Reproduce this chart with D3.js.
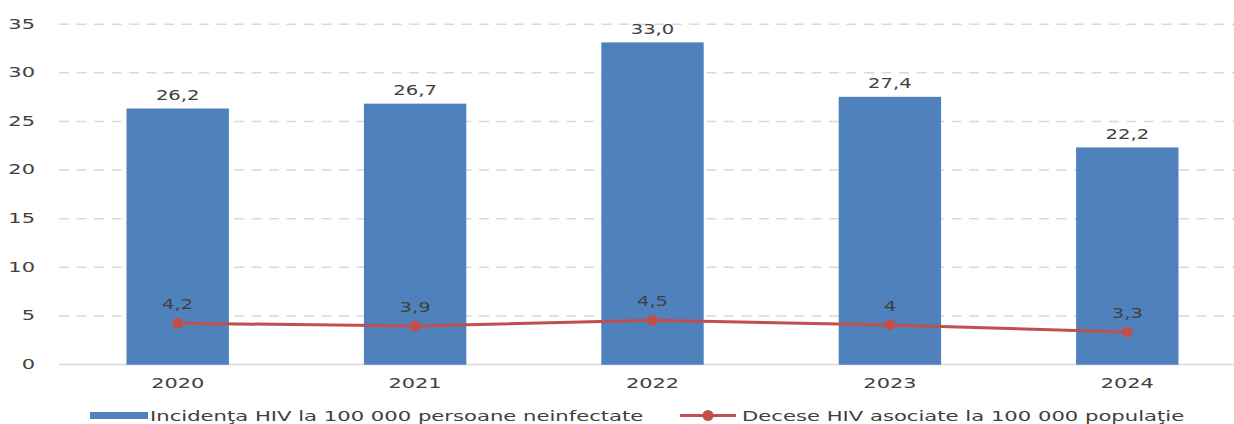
<!DOCTYPE html>
<html>
<head>
<meta charset="utf-8">
<script src="https://cdn.jsdelivr.net/npm/d3@7"></script>
<style>
  html, body { margin: 0; padding: 0; background: #fff; }
  svg { display: block; font-family: "DejaVu Sans", Verdana, sans-serif; }
</style>
</head>
<body>
<svg id="chart" width="1234" height="424"></svg>
<script>
// Yearly HIV indicators
const years = ["2020", "2021", "2022", "2023", "2024"];
const incidence = [26.2, 26.7, 33.0, 27.4, 22.2];
const incidenceLabels = ["26,2", "26,7", "33,0", "27,4", "22,2"];
const deaths = [4.2, 3.9, 4.5, 4, 3.3];
const deathLabels = ["4,2", "3,9", "4,5", "4", "3,3"];
const yTicks = [0, 5, 10, 15, 20, 25, 30, 35];
const seriesNames = ["Incidenţa HIV la 100 000 persoane neinfectate", "Decese HIV asociate la 100 000 populaţie"];

const barColor = "#4F81BD";
const lineColor = "#C0504D";
const textColor = "#404040";
const gridColor = "#D9D9D9";

const svg = d3.select("#chart");
const plotLeft = 59, plotRight = 1246, plotTop = 23.7, plotBottom = 364;

// wide lettering: stretch glyphs horizontally by a fixed factor
function widen(sel, f) {
  sel.each(function () {
    const w = this.getComputedTextLength();
    this.setAttribute("textLength", w * f);
    this.setAttribute("lengthAdjust", "spacingAndGlyphs");
  });
}

const x = d3.scaleBand().domain(years).range([plotLeft, plotRight])
  .paddingInner(0.575).paddingOuter(0.2875);
const y = d3.scaleLinear().domain([0, 35]).range([plotBottom, plotTop]);

// horizontal gridlines and y labels
const yAxis = d3.axisLeft(y).tickValues(yTicks).tickSize(-(plotRight - plotLeft)).tickPadding(24);
const gy = svg.append("g").attr("transform", `translate(${plotLeft},0)`).call(yAxis);
gy.select(".domain").remove();
gy.selectAll(".tick line")
  .attr("stroke", gridColor).attr("stroke-width", 1.5)
  .attr("stroke-dasharray", d => d === 0 ? null : "10,7.5");
gy.selectAll(".tick text")
  .attr("fill", textColor).style("font-size", "13.5px")
  .attr("font-family", "DejaVu Sans, Verdana, sans-serif")
  .call(widen, 1.55);

// bars
svg.append("g").selectAll("rect").data(years).join("rect")
  .attr("x", d => x(d))
  .attr("y", (d, i) => y(incidence[i]))
  .attr("width", x.bandwidth())
  .attr("height", (d, i) => y(0) - y(incidence[i]))
  .attr("fill", barColor)
  .attr("stroke", barColor).attr("stroke-width", 1.5);

// bar value labels
svg.append("g").selectAll("text").data(years).join("text")
  .attr("x", d => x(d) + x.bandwidth() / 2)
  .attr("y", (d, i) => y(incidence[i]) - 9.5)
  .attr("text-anchor", "middle")
  .attr("fill", textColor).style("font-size", "13.5px")
  .text((d, i) => incidenceLabels[i])
  .call(widen, 1.45);

// year labels
const xAxis = d3.axisBottom(x).tickSize(0).tickPadding(14);
const gx = svg.append("g").attr("transform", `translate(0,${plotBottom})`).call(xAxis);
gx.select(".domain").remove();
gx.selectAll(".tick text")
  .attr("fill", textColor).style("font-size", "14px")
  .attr("font-family", "DejaVu Sans, Verdana, sans-serif")
  .call(widen, 1.49);

// death rate line
const cx = d => x(d) + x.bandwidth() / 2;
const line = d3.line().x((d, i) => cx(years[i])).y(d => y(d));
svg.append("path").datum(deaths)
  .attr("d", line).attr("fill", "none")
  .attr("stroke", lineColor).attr("stroke-width", 3).attr("stroke-linecap", "round");
svg.append("g").selectAll("circle").data(deaths).join("circle")
  .attr("cx", (d, i) => cx(years[i])).attr("cy", d => y(d)).attr("r", 5.5)
  .attr("fill", lineColor);
svg.append("g").selectAll("text").data(deaths).join("text")
  .attr("x", (d, i) => cx(years[i]))
  .attr("y", d => y(d) - 14)
  .attr("text-anchor", "middle")
  .attr("fill", textColor).style("font-size", "13.5px")
  .text((d, i) => deathLabels[i])
  .call(widen, 1.45);

// legend
const lg = svg.append("g").attr("transform", "translate(0,415.5)");
lg.append("rect").attr("x", 90).attr("y", -3.5).attr("width", 58).attr("height", 7).attr("fill", barColor);
lg.append("text").attr("x", 150).attr("y", 5.5).attr("fill", textColor).style("font-size", "14px")
  .text(seriesNames[0]).call(widen, 1.51);
lg.append("line").attr("x1", 680).attr("x2", 736).attr("y1", 0).attr("y2", 0)
  .attr("stroke", lineColor).attr("stroke-width", 3);
lg.append("circle").attr("cx", 708).attr("cy", 0).attr("r", 5.5).attr("fill", lineColor);
lg.append("text").attr("x", 742).attr("y", 5.5).attr("fill", textColor).style("font-size", "14px")
  .text(seriesNames[1]).call(widen, 1.51);
</script>
</body>
</html>
